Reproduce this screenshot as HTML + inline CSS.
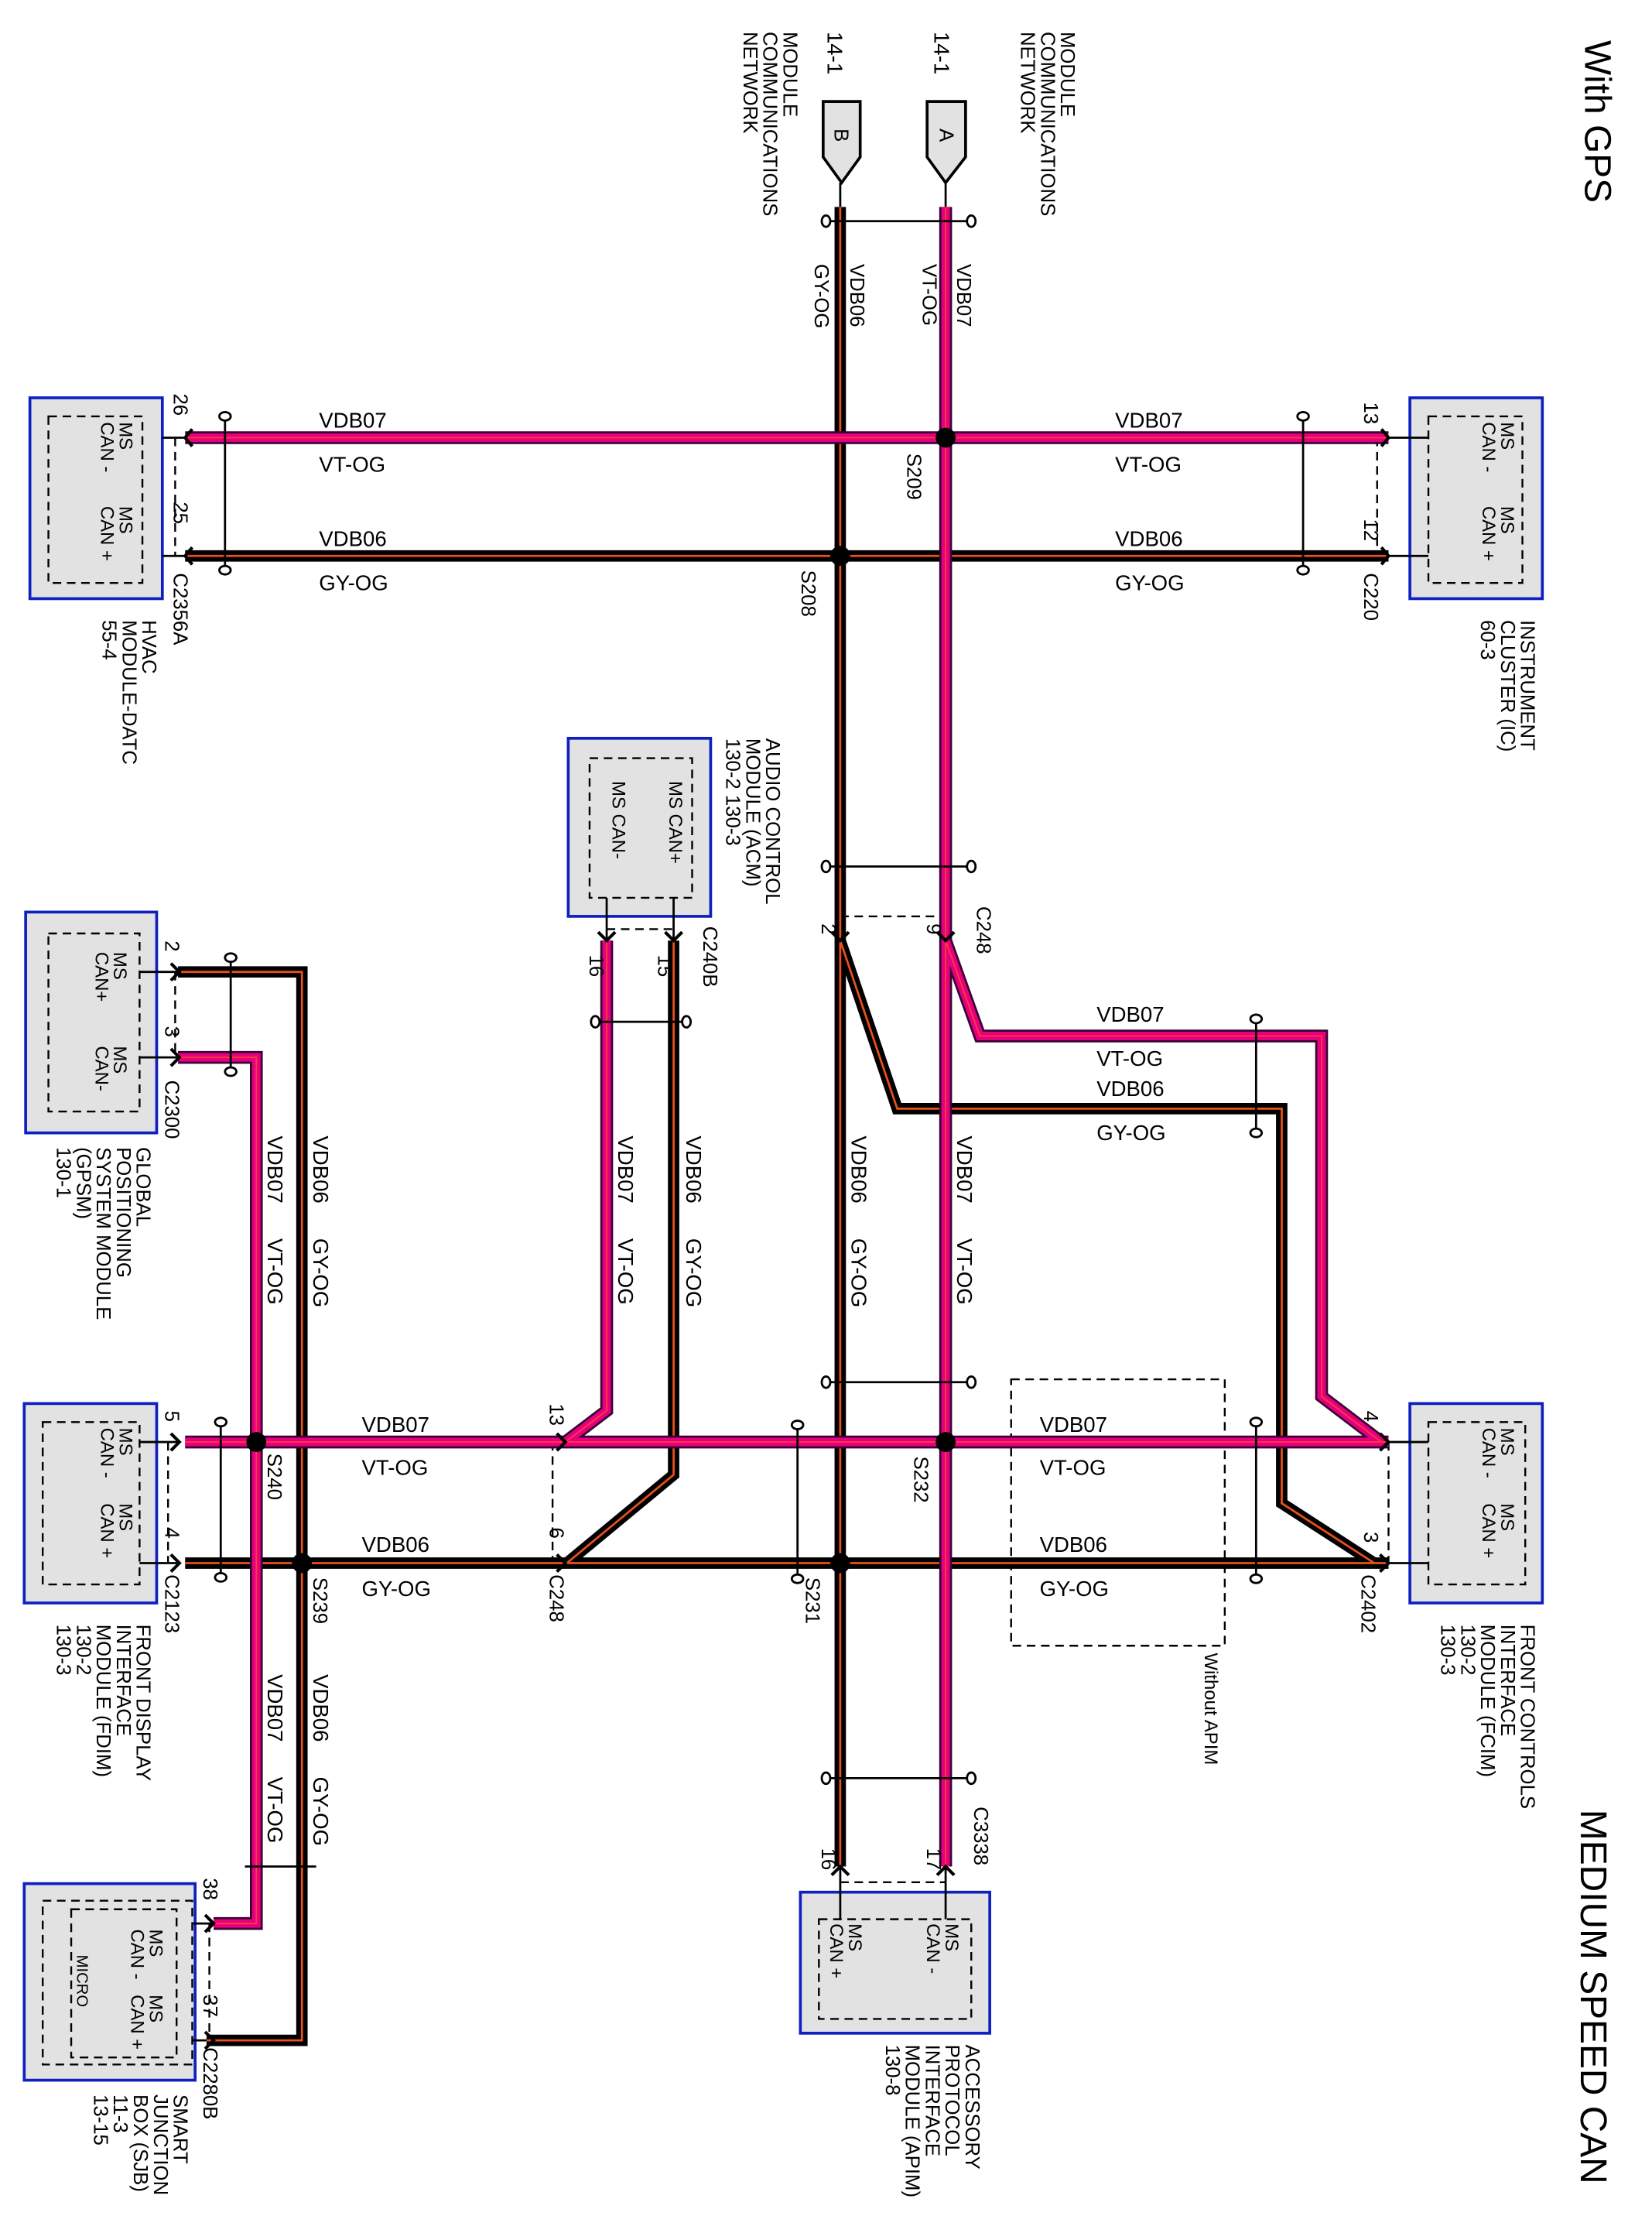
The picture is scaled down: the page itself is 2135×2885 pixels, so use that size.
<!DOCTYPE html>
<html><head><meta charset="utf-8"><style>
html,body{margin:0;padding:0;background:#fff}
svg{display:block}
text{font-family:"Liberation Sans",sans-serif;fill:#000}
.v1{stroke:#3a0035;stroke-width:9;fill:none}
.v2{stroke:#e4007f;stroke-width:6;fill:none}
.v3{stroke:#ff3a3a;stroke-width:1;fill:none}
.g1{stroke:#000;stroke-width:8;fill:none}
.g2{stroke:#e8501c;stroke-width:1.5;fill:none}
.box{fill:#e2e2e2;stroke:#1020c0;stroke-width:2}
.dash{fill:none;stroke:#000;stroke-width:1.3;stroke-dasharray:6 4}
.ln{stroke:#000;stroke-width:1.5;fill:none}
.tw{stroke:#000;stroke-width:1.5;fill:#fff}
</style></head><body>
<svg width="2135" height="2885" viewBox="0 0 1160 1567" xmlns="http://www.w3.org/2000/svg">
<defs>
<g id="chev"><path d="M-5,-6 L0,0 L-5,6" stroke="#000" stroke-width="2" fill="none"/></g>
</defs>

<!-- Boxes -->
<rect class="box" x="990" y="279" width="93" height="141"/>
<rect class="dash" x="1003" y="292" width="66" height="117"/>
<rect class="box" x="21" y="279" width="93" height="141"/>
<rect class="dash" x="34" y="292" width="66" height="117"/>
<rect class="box" x="399" y="518" width="100" height="125"/>
<rect class="dash" x="414" y="532" width="72" height="98"/>
<rect class="box" x="18" y="640" width="92" height="155"/>
<rect class="dash" x="34" y="655" width="64" height="125"/>
<rect class="box" x="17" y="985" width="93" height="140"/>
<rect class="dash" x="30" y="998" width="68" height="114"/>
<rect class="box" x="990" y="985" width="93" height="140"/>
<rect class="dash" x="1003" y="998" width="68" height="114"/>
<rect class="box" x="17" y="1322" width="120" height="138"/>
<rect class="dash" x="30" y="1334" width="105" height="115"/>
<rect class="dash" x="50" y="1340" width="74" height="104"/>
<rect class="box" x="562" y="1328" width="133" height="99"/>
<rect class="dash" x="575" y="1347" width="107" height="70"/>
<rect class="dash" x="710" y="968" width="150" height="187"/>

<!-- connector dashed pin brackets -->
<path class="dash" d="M123,307 V390 M967,307 V390 M590,643 H664 M426,652 H473 M123,682 V742 M118,1012 V1097 M388,1012 V1097 M975,1012 V1097 M590,1321 H664 M147,1350 V1432"/>

<!-- internal pin lines -->
<path class="ln" d="M975,307 H1003 M975,390 H1003 M114,307 H130 M114,390 H130 M98,682 H125 M98,742 H125 M98,1012 H125 M98,1097 H125 M975,1012 H1003 M975,1097 H1003 M426,630 V660 M473,630 V660 M590,1310 V1347 M664,1310 V1347 M135,1350 H150 M135,1432 H150 M664,128 V145 M590,128 V145"/>

<!-- A/B connectors -->
<path d="M651,71 H678 V110 L664,128 L651,110 Z" fill="#e2e2e2" stroke="#000" stroke-width="2"/>
<path d="M578,71 H604 V110 L591,128 L578,110 Z" fill="#e2e2e2" stroke="#000" stroke-width="2"/>
<text transform="translate(660,90) rotate(90)" font-size="14">A</text>
<text transform="translate(586,90) rotate(90)" font-size="14">B</text>

<!-- GY-OG wires -->
<path class="g1" d="M590,145 V1310 M130,390 H975 M590,660 L630,778 H900 V1055 L965,1097 M473,660 V1035 L398,1097 M130,1097 H975 M125,682 H212 V1432 H145"/>
<path class="g2" d="M590,145 V1310 M130,390 H975 M590,660 L630,778 H900 V1055 L965,1097 M473,660 V1035 L398,1097 M130,1097 H975 M125,682 H212 V1432 H145"/>
<!-- VT-OG wires -->
<path class="v1" d="M664,145 V1310 M130,307 H975 M664,660 L688,727 H928 V980 L970,1012 M426,660 V990 L397,1012 M130,1012 H975 M125,742 H180 V1350 H150"/>
<path class="v2" d="M664,145 V1310 M130,307 H975 M664,660 L688,727 H928 V980 L970,1012 M426,660 V990 L397,1012 M130,1012 H975 M125,742 H180 V1350 H150"/>
<path class="v3" d="M664,145 V1310 M130,307 H975 M664,660 L688,727 H928 V980 L970,1012 M426,660 V990 L397,1012 M130,1012 H975 M125,742 H180 V1350 H150"/>

<!-- splices -->
<g fill="#000"><circle cx="664" cy="307" r="7"/><circle cx="590" cy="390" r="7"/><circle cx="664" cy="1012" r="7"/><circle cx="590" cy="1097" r="7"/><circle cx="180" cy="1012" r="7"/><circle cx="212" cy="1097" r="7"/></g>

<!-- twist markers -->
<g class="ln">
<path d="M580,155 H682 M580,608 H682 M580,970 H682 M580,1248 H682 M418,717 H482 M172,1310 H222"/>
<path d="M158,292 V400 M915,292 V400 M162,672 V752 M155,998 V1107 M560,1000 V1108 M882,998 V1108 M882,715 V795"/>
</g>
<g class="tw">
<ellipse cx="580" cy="155" rx="3" ry="4"/><ellipse cx="682" cy="155" rx="3" ry="4"/>
<ellipse cx="580" cy="608" rx="3" ry="4"/><ellipse cx="682" cy="608" rx="3" ry="4"/>
<ellipse cx="580" cy="970" rx="3" ry="4"/><ellipse cx="682" cy="970" rx="3" ry="4"/>
<ellipse cx="580" cy="1248" rx="3" ry="4"/><ellipse cx="682" cy="1248" rx="3" ry="4"/>
<ellipse cx="418" cy="717" rx="3" ry="4"/><ellipse cx="482" cy="717" rx="3" ry="4"/>
<ellipse cx="158" cy="292" rx="4" ry="3"/><ellipse cx="158" cy="400" rx="4" ry="3"/>
<ellipse cx="915" cy="292" rx="4" ry="3"/><ellipse cx="915" cy="400" rx="4" ry="3"/>
<ellipse cx="162" cy="672" rx="4" ry="3"/><ellipse cx="162" cy="752" rx="4" ry="3"/>
<ellipse cx="155" cy="998" rx="4" ry="3"/><ellipse cx="155" cy="1107" rx="4" ry="3"/>
<ellipse cx="560" cy="1000" rx="4" ry="3"/><ellipse cx="560" cy="1108" rx="4" ry="3"/>
<ellipse cx="882" cy="998" rx="4" ry="3"/><ellipse cx="882" cy="1108" rx="4" ry="3"/>
<ellipse cx="882" cy="715" rx="4" ry="3"/><ellipse cx="882" cy="795" rx="4" ry="3"/>
</g>

<!-- pin chevrons -->
<g stroke="#000" stroke-width="2.2" fill="none">
<path d="M135,301 L130,307 L135,313 M135,384 L130,390 L135,396"/>
<path d="M970,301 L975,307 L970,313 M970,384 L975,390 L970,396"/>
<path d="M120,676 L126,682 L120,688 M120,736 L126,742 L120,748"/>
<path d="M120,1006 L126,1012 L120,1018 M120,1091 L126,1097 L120,1103"/>
<path d="M969,1006 L975,1012 L969,1018 M969,1091 L975,1097 L969,1103"/>
<path d="M391,1006 L397,1012 L391,1018 M391,1091 L397,1097 L391,1103"/>
<path d="M144,1344 L150,1350 L144,1356 M144,1426 L150,1432 L144,1438"/>
<path d="M584,654 L590,660 L596,654 M658,654 L664,660 L670,654"/>
<path d="M420,654 L426,660 L432,654 M467,654 L473,660 L479,654"/>
<path d="M584,1316 L590,1310 L596,1316 M658,1316 L664,1310 L670,1316"/>
</g>

<!-- Titles -->
<text transform="translate(1113,28) rotate(90)" font-size="26">With GPS</text>
<text transform="translate(1110,1270) rotate(90)" font-size="26">MEDIUM SPEED CAN</text>

<g font-size="14">
<text transform="translate(745,22) rotate(90)">MODULE<tspan x="0" dy="14">COMMUNICATIONS</tspan><tspan x="0" dy="14">NETWORK</tspan></text>
<text transform="translate(550,22) rotate(90)">MODULE<tspan x="0" dy="14">COMMUNICATIONS</tspan><tspan x="0" dy="14">NETWORK</tspan></text>
<text transform="translate(656,22) rotate(90)" font-size="15">14-1</text>
<text transform="translate(581,22) rotate(90)" font-size="15">14-1</text>

<text transform="translate(672,185) rotate(90)">VDB07</text>
<text transform="translate(648,185) rotate(90)">VT-OG</text>
<text transform="translate(597,185) rotate(90)">VDB06</text>
<text transform="translate(572,185) rotate(90)">GY-OG</text>
</g>

<g font-size="15">
<text x="224" y="300">VDB07</text><text x="224" y="331">VT-OG</text>
<text x="224" y="383">VDB06</text><text x="224" y="414">GY-OG</text>
<text x="783" y="300">VDB07</text><text x="783" y="331">VT-OG</text>
<text x="783" y="383">VDB06</text><text x="783" y="414">GY-OG</text>
<text x="770" y="717">VDB07</text><text x="770" y="748">VT-OG</text>
<text x="770" y="769">VDB06</text><text x="770" y="800">GY-OG</text>
<text x="254" y="1005">VDB07</text><text x="254" y="1035">VT-OG</text>
<text x="254" y="1089">VDB06</text><text x="254" y="1120">GY-OG</text>
<text x="730" y="1005">VDB07</text><text x="730" y="1035">VT-OG</text>
<text x="730" y="1089">VDB06</text><text x="730" y="1120">GY-OG</text>
</g>

<g font-size="15">
<text transform="translate(598,797) rotate(90)">VDB06<tspan x="72">GY-OG</tspan></text>
<text transform="translate(672,797) rotate(90)">VDB07<tspan x="72">VT-OG</tspan></text>
<text transform="translate(482,797) rotate(90)">VDB06<tspan x="72">GY-OG</tspan></text>
<text transform="translate(434,797) rotate(90)">VDB07<tspan x="72">VT-OG</tspan></text>
<text transform="translate(220,797) rotate(90)">VDB06<tspan x="72">GY-OG</tspan></text>
<text transform="translate(188,797) rotate(90)">VDB07<tspan x="72">VT-OG</tspan></text>
<text transform="translate(220,1175) rotate(90)">VDB06<tspan x="72">GY-OG</tspan></text>
<text transform="translate(188,1175) rotate(90)">VDB07<tspan x="72">VT-OG</tspan></text>
</g>

<g font-size="14">
<text transform="translate(637,318) rotate(90)">S209</text>
<text transform="translate(563,400) rotate(90)">S208</text>
<text transform="translate(958,402) rotate(90)">C220</text>
<text transform="translate(958,282) rotate(90)">13</text>
<text transform="translate(958,364) rotate(90)">12</text>
<text transform="translate(122,276) rotate(90)">26</text>
<text transform="translate(122,352) rotate(90)">25</text>
<text transform="translate(122,402) rotate(90)">C2356A</text>
<text transform="translate(686,636) rotate(90)">C248</text>
<text transform="translate(651,648) rotate(90)">9</text>
<text transform="translate(577,648) rotate(90)">2</text>
<text transform="translate(494,650) rotate(90)">C240B</text>
<text transform="translate(462,670) rotate(90)">15</text>
<text transform="translate(414,670) rotate(90)">16</text>
<text transform="translate(116,660) rotate(90)">2</text>
<text transform="translate(116,720) rotate(90)">3</text>
<text transform="translate(116,758) rotate(90)">C2300</text>
<text transform="translate(188,1020) rotate(90)">S240</text>
<text transform="translate(220,1107) rotate(90)">S239</text>
<text transform="translate(642,1022) rotate(90)">S232</text>
<text transform="translate(566,1107) rotate(90)">S231</text>
<text transform="translate(386,1105) rotate(90)">C248</text>
<text transform="translate(386,985) rotate(90)">13</text>
<text transform="translate(386,1072) rotate(90)">6</text>
<text transform="translate(116,1105) rotate(90)">C2123</text>
<text transform="translate(116,990) rotate(90)">5</text>
<text transform="translate(116,1072) rotate(90)">4</text>
<text transform="translate(956,1105) rotate(90)">C2402</text>
<text transform="translate(958,990) rotate(90)">4</text>
<text transform="translate(958,1075) rotate(90)">3</text>
<text transform="translate(846,1160) rotate(90)" font-size="13">Without APIM</text>
<text transform="translate(684,1268) rotate(90)">C3338</text>
<text transform="translate(651,1297) rotate(90)">17</text>
<text transform="translate(577,1297) rotate(90)">16</text>
<text transform="translate(143,1318) rotate(90)">38</text>
<text transform="translate(143,1400) rotate(90)">37</text>
<text transform="translate(143,1437) rotate(90)">C2280B</text>
</g>

<!-- module labels -->
<g font-size="14">
<text transform="translate(1068,435) rotate(90)">INSTRUMENT<tspan x="0" dy="14">CLUSTER (IC)</tspan><tspan x="0" dy="14">60-3</tspan></text>
<text transform="translate(100,435) rotate(90)">HVAC<tspan x="0" dy="14">MODULE-DATC</tspan><tspan x="0" dy="14">55-4</tspan></text>
<text transform="translate(538,518) rotate(90)">AUDIO CONTROL<tspan x="0" dy="14">MODULE (ACM)</tspan><tspan x="0" dy="14">130-2    130-3</tspan></text>
<text transform="translate(96,805) rotate(90)">GLOBAL<tspan x="0" dy="14">POSITIONING</tspan><tspan x="0" dy="14">SYSTEM MODULE</tspan><tspan x="0" dy="14">(GPSM)</tspan><tspan x="0" dy="14">130-1</tspan></text>
<text transform="translate(96,1140) rotate(90)">FRONT DISPLAY<tspan x="0" dy="14">INTERFACE</tspan><tspan x="0" dy="14">MODULE (FDIM)</tspan><tspan x="0" dy="14">130-2</tspan><tspan x="0" dy="14">130-3</tspan></text>
<text transform="translate(1068,1140) rotate(90)">FRONT CONTROLS<tspan x="0" dy="14">INTERFACE</tspan><tspan x="0" dy="14">MODULE (FCIM)</tspan><tspan x="0" dy="14">130-2</tspan><tspan x="0" dy="14">130-3</tspan></text>
<text transform="translate(678,1435) rotate(90)">ACCESSORY<tspan x="0" dy="14">PROTOCOL</tspan><tspan x="0" dy="14">INTERFACE</tspan><tspan x="0" dy="14">MODULE (APIM)</tspan><tspan x="0" dy="14">130-8</tspan></text>
<text transform="translate(122,1470) rotate(90)">SMART<tspan x="0" dy="14">JUNCTION</tspan><tspan x="0" dy="14">BOX (SJB)</tspan><tspan x="0" dy="14">11-3</tspan><tspan x="0" dy="14">13-15</tspan></text>
</g>

<!-- box inner texts -->
<g font-size="13">
<text transform="translate(1054,296) rotate(90)">MS<tspan x="0" dy="13">CAN -</tspan></text>
<text transform="translate(1054,355) rotate(90)">MS<tspan x="0" dy="13">CAN +</tspan></text>
<text transform="translate(84,296) rotate(90)">MS<tspan x="0" dy="13">CAN -</tspan></text>
<text transform="translate(84,355) rotate(90)">MS<tspan x="0" dy="13">CAN +</tspan></text>
<text transform="translate(470,548) rotate(90)">MS CAN+</text>
<text transform="translate(430,548) rotate(90)">MS CAN-</text>
<text transform="translate(80,668) rotate(90)">MS<tspan x="0" dy="13">CAN+</tspan></text>
<text transform="translate(80,734) rotate(90)">MS<tspan x="0" dy="13">CAN-</tspan></text>
<text transform="translate(84,1002) rotate(90)">MS<tspan x="0" dy="13">CAN -</tspan></text>
<text transform="translate(84,1055) rotate(90)">MS<tspan x="0" dy="13">CAN +</tspan></text>
<text transform="translate(1054,1002) rotate(90)">MS<tspan x="0" dy="13">CAN -</tspan></text>
<text transform="translate(1054,1055) rotate(90)">MS<tspan x="0" dy="13">CAN +</tspan></text>
<text transform="translate(105,1354) rotate(90)">MS<tspan x="0" dy="13">CAN -</tspan></text>
<text transform="translate(105,1400) rotate(90)">MS<tspan x="0" dy="13">CAN +</tspan></text>
<text transform="translate(54,1372) rotate(90)" font-size="11">MICRO</text>
<text transform="translate(664,1350) rotate(90)">MS<tspan x="0" dy="13">CAN -</tspan></text>
<text transform="translate(596,1350) rotate(90)">MS<tspan x="0" dy="13">CAN +</tspan></text>
</g>
</svg>
</body></html>
